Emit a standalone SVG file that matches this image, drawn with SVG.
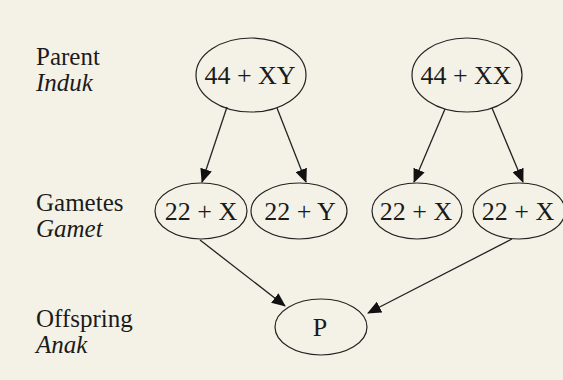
<svg xmlns="http://www.w3.org/2000/svg" width="563" height="380" viewBox="0 0 563 380">
<defs>
<style>
.lbl{font-family:"Liberation Serif","Times New Roman",serif;font-size:25px;fill:#1b1b1b}
.it{font-style:italic}
.nt{font-family:"Liberation Serif","Times New Roman",serif;font-size:26px;fill:#1b1b1b;text-anchor:middle}
.el{fill:none;stroke:#222;stroke-width:1.2}
.ed{stroke:#222;stroke-width:1.3;fill:none;marker-end:url(#ah)}
</style>
<marker id="ah" viewBox="0 0 14 12" refX="13" refY="6" markerWidth="14" markerHeight="12" markerUnits="userSpaceOnUse" orient="auto">
<path d="M0,0 L14,6 L0,12 Z" fill="#111"/>
</marker>
</defs>
<rect width="563" height="380" fill="#f4f2e7"/>
<g id="labels">
<text class="lbl" x="36" y="65">Parent</text>
<text class="lbl it" x="36" y="91">Induk</text>
<text class="lbl" x="36" y="211">Gametes</text>
<text class="lbl it" x="36" y="237">Gamet</text>
<text class="lbl" x="36" y="327">Offspring</text>
<text class="lbl it" x="36" y="353">Anak</text>
</g>
<g id="p1"><ellipse class="el" cx="251" cy="75" rx="55" ry="37"/><text class="nt" x="250" y="84">44 + XY</text></g>
<g id="p2"><ellipse class="el" cx="467" cy="75" rx="55" ry="37"/><text class="nt" x="466" y="84">44 + XX</text></g>
<g id="g1"><ellipse class="el" cx="201" cy="211" rx="46" ry="28"/><text class="nt" x="201" y="220">22 + X</text></g>
<g id="g2"><ellipse class="el" cx="299" cy="211" rx="48" ry="28"/><text class="nt" x="300" y="220">22 + Y</text></g>
<g id="g3"><ellipse class="el" cx="417" cy="211" rx="45" ry="28"/><text class="nt" x="416" y="220">22 + X</text></g>
<g id="g4"><ellipse class="el" cx="519" cy="211" rx="46" ry="28"/><text class="nt" x="518" y="220">22 + X</text></g>
<g id="off"><ellipse class="el" cx="321" cy="327" rx="46" ry="28"/><text class="nt" x="320" y="336">P</text></g>
<g id="connectors">
<line class="ed" x1="227" y1="107" x2="202" y2="182"/>
<line class="ed" x1="277" y1="108" x2="306" y2="182"/>
<line class="ed" x1="445" y1="109" x2="414" y2="182"/>
<line class="ed" x1="492" y1="108" x2="523" y2="182"/>
<line class="ed" x1="200" y1="240" x2="285" y2="306"/>
<line class="ed" x1="512" y1="239" x2="368" y2="313"/>
</g>
</svg>
